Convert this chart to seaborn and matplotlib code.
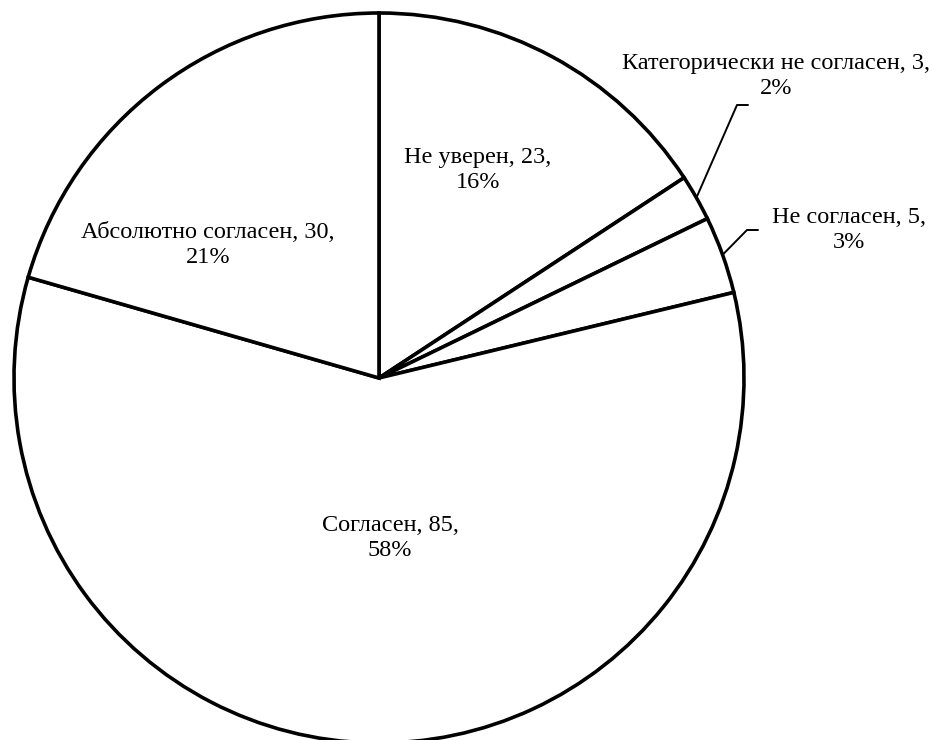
import matplotlib.pyplot as plt
import numpy as np
import seaborn as sns

plt.switch_backend("Agg")
sns.set_style("white")
plt.rcParams["font.family"] = ["Liberation Serif", "DejaVu Serif"]
plt.rcParams["text.color"] = "black"

categories = [
    "Не уверен",
    "Категорически не согласен",
    "Не согласен",
    "Согласен",
    "Абсолютно согласен",
]
counts = [23, 3, 5, 85, 30]
percents = ["16%", "2%", "3%", "58%", "21%"]

W, H = 932, 740
# label centres in pixel coords (x, y from top)
label_pos = [(478, 170), (776, 76), (849, 230), (390, 538), (208, 245)]
# elbow of leader line (None = label sits inside its slice)
elbows = [None, ((737, 105), (748, 105)), ((747, 230), (758, 230)), None, None]


def px(x, y):
    return x, H - y


fig = plt.figure(figsize=(W / 100, H / 100), dpi=100)
ax = fig.add_axes([0, 0, 1, 1])

center = px(379, 378)
radius = 365
wedges, _ = ax.pie(
    counts,
    center=center,
    radius=radius,
    startangle=90,
    counterclock=False,
    colors=["white"] * len(counts),
    wedgeprops={"edgecolor": "black", "linewidth": 2.6},
    frame=True,
)
ax.set_xlim(0, W)
ax.set_ylim(0, H)
ax.set_aspect("equal")
ax.axis("off")

for wedge, name, n, pct, pos, elbow in zip(wedges, categories, counts, percents, label_pos, elbows):
    ax.text(*px(*pos), f"{name}, {n},\n{pct}", ha="center", va="center",
            fontsize=17.5, linespacing=1.3, color="black")
    if elbow is not None:
        mid = np.deg2rad((wedge.theta1 + wedge.theta2) / 2)
        start = (center[0] + radius * np.cos(mid), center[1] + radius * np.sin(mid))
        p1 = px(*elbow[0])
        p2 = px(*elbow[1])
        ax.plot([start[0], p1[0], p2[0]], [start[1], p1[1], p2[1]], color="black", lw=1.4)

fig.savefig("out.png", dpi=100)
